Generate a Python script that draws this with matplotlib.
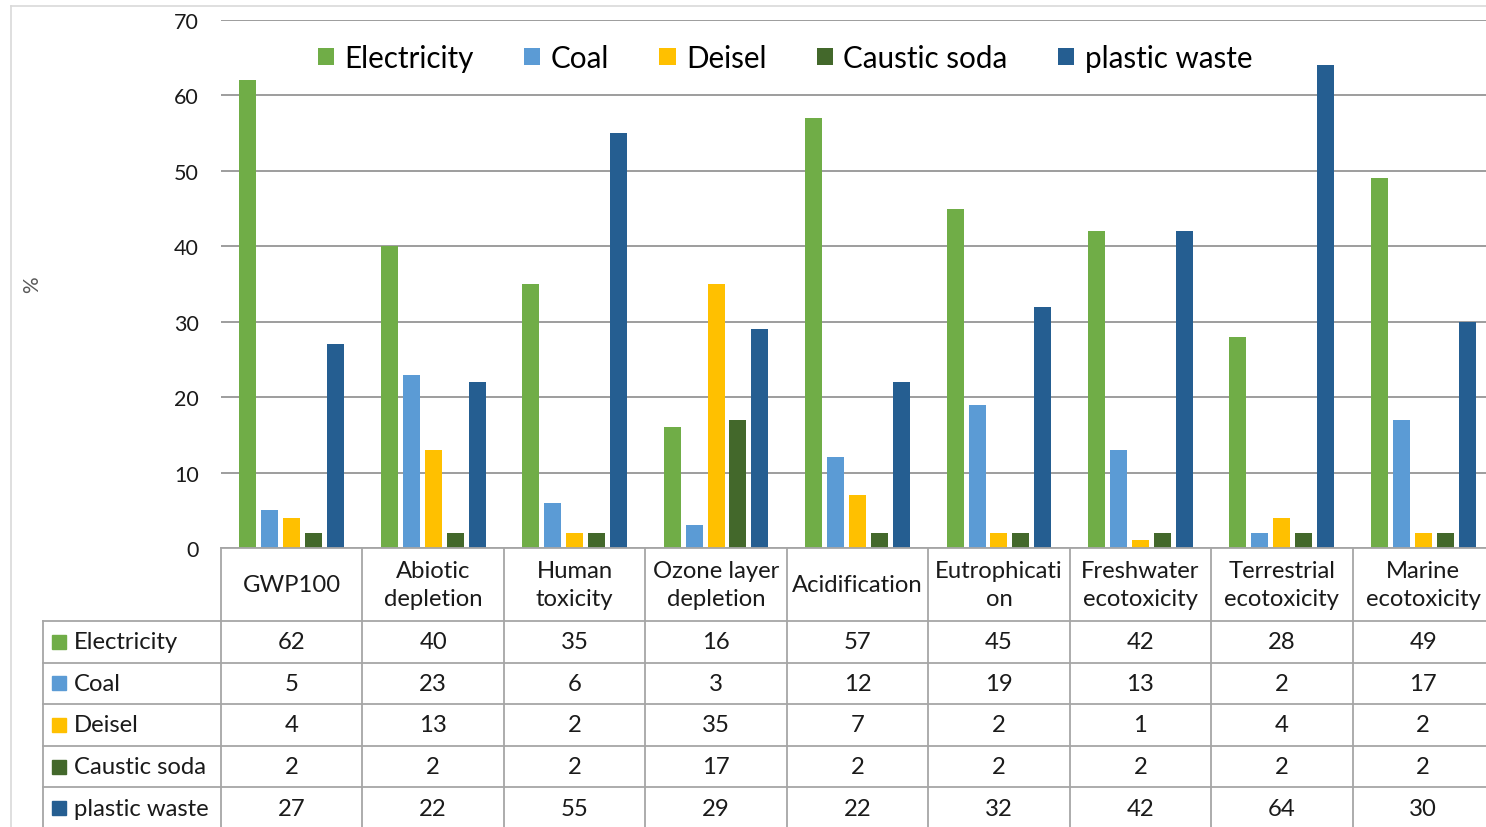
import matplotlib.pyplot as plt
from matplotlib.patches import Rectangle

# --- Data ---
categories = ["GWP100", "Abiotic\ndepletion", "Human\ntoxicity", "Ozone layer\ndepletion",
              "Acidification", "Eutrophicati\non", "Freshwater\necotoxicity",
              "Terrestrial\necotoxicity", "Marine\necotoxicity"]
series_names = ["Electricity", "Coal", "Deisel", "Caustic soda", "plastic waste"]
electricity = [62, 40, 35, 16, 57, 45, 42, 28, 49]
coal = [5, 23, 6, 3, 12, 19, 13, 2, 17]
deisel = [4, 13, 2, 35, 7, 2, 1, 4, 2]
caustic_soda = [2, 2, 2, 17, 2, 2, 2, 2, 2]
plastic_waste = [27, 22, 55, 29, 22, 32, 42, 64, 30]
values = [electricity, coal, deisel, caustic_soda, plastic_waste]
colors = ["#70AD47", "#5B9BD5", "#FFC000", "#43682B", "#255E91"]

plt.rcParams["font.family"] = ["Lato", "DejaVu Sans"]

W, H = 1486, 828
fig = plt.figure(figsize=(W / 100, H / 100), dpi=100)

# plot area in pixels
x0_px, x1_px = 221, 1494
y0_px, y1_px = 549, 21
ax = fig.add_axes([x0_px / W, 1 - y0_px / H, (x1_px - x0_px) / W, (y0_px - y1_px) / H])
n = len(categories)
ax.set_xlim(-0.5, n - 0.5)
ax.set_ylim(0, 70)

bar_w = 0.12
step = 0.155
handles = []
for i, (name, vals, c) in enumerate(zip(series_names, values, colors)):
    xs = [k + (i - 2) * step for k in range(n)]
    b = ax.bar(xs, vals, width=bar_w, color=c, label=name, zorder=3)
    handles.append(b)

ax.set_yticks(range(0, 71, 10))
ax.set_xticks([])
ax.tick_params(axis="y", length=0, pad=16, labelsize=15.5, labelcolor="#1a1a1a")
ax.grid(axis="y", color="#8c8c8c", linewidth=1.2, zorder=0)
for s in ax.spines.values():
    s.set_visible(False)

fig.text(32 / W, 1 - 285 / H, "%", rotation=90, ha="center", va="center",
         fontsize=15, color="#595959")

fig.legend(handles=handles, labels=series_names, loc="center",
           bbox_to_anchor=(785 / W, 1 - 59 / H), ncol=5, frameon=False,
           fontsize=21.3, handlelength=0.55, handleheight=0.55,
           handletextpad=0.35, columnspacing=1.7)

# --- data table below the plot ---
tab_top, tab_bot = 549, 830
tax = fig.add_axes([x0_px / W, 1 - tab_bot / H, (x1_px - x0_px) / W, (tab_bot - tab_top) / H])
tax.set_xlim(-0.5, n - 0.5)
tax.set_ylim(tab_bot, tab_top)
tax.axis("off")

unit = (x1_px - x0_px) / n
left_x = -0.5 - (x0_px - 43) / unit
header_bot = 622
row_h = (tab_bot - header_bot) / len(series_names)
row_edges = [header_bot + r * row_h for r in range(len(series_names) + 1)]
lc = "#a6a6a6"
lw = 1.3
fs = 17.2

tax.plot([-0.5, n - 0.5], [tab_top, tab_top], color=lc, lw=lw, clip_on=False)
for y in row_edges:
    tax.plot([left_x, n - 0.5], [y, y], color=lc, lw=lw, clip_on=False)
for k in range(n + 1):
    tax.plot([k - 0.5, k - 0.5], [tab_top, tab_bot], color=lc, lw=lw, clip_on=False)
tax.plot([left_x, left_x], [header_bot, tab_bot], color=lc, lw=lw, clip_on=False)

for k, cat in enumerate(categories):
    tax.text(k, (tab_top + header_bot) / 2, cat, ha="center", va="center",
             fontsize=fs, color="#1a1a1a", linespacing=1.4, clip_on=False)

sq = 14 / unit
for r, (name, vals, c) in enumerate(zip(series_names, values, colors)):
    yc = row_edges[r] + row_h / 2
    tax.add_patch(Rectangle((left_x + 9 / unit, yc - 7), sq, 14, color=c, clip_on=False))
    tax.text(left_x + 31 / unit, yc, name, ha="left", va="center",
             fontsize=fs, color="#1a1a1a", clip_on=False)
    for k, v in enumerate(vals):
        tax.text(k, yc, str(v), ha="center", va="center", fontsize=fs,
                 color="#1a1a1a", clip_on=False)

# outer chart frame
fig.add_artist(plt.Line2D([11 / W, 11 / W], [0, 1 - 7 / H], color="#d9d9d9", lw=1.2))
fig.add_artist(plt.Line2D([11 / W, 1], [1 - 7 / H, 1 - 7 / H], color="#d9d9d9", lw=1.2))

fig.savefig("out.png", dpi=100)
